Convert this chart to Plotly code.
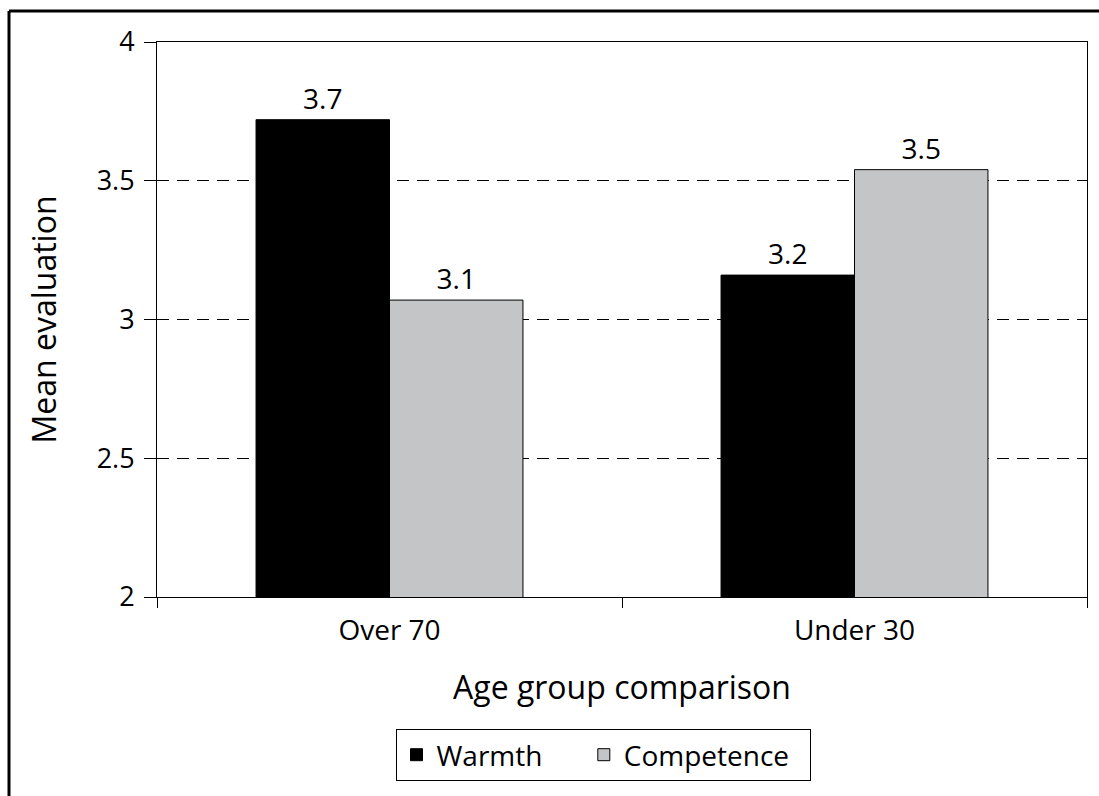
import plotly.graph_objects as go

# Mean evaluations by target age group
age_groups = ["Over 70", "Under 30"]
warmth = [3.72, 3.16]
competence = [3.07, 3.54]
y_ticks = [2, 2.5, 3, 3.5, 4]
y_tick_text = ["2", "2.5", "3", "3.5", "4"]

FONT = "Open Sans"
W, H = 1099, 796
L, R, T, B = 157, 12, 42, 199
pw, ph = W - L - R, H - T - B
NBSP = "&nbsp;"


def px_x(px):
    return (px - L) / pw


def px_y(py):
    return (H - B - py) / ph


fig = go.Figure()
fig.add_trace(go.Bar(
    name="Warmth" + NBSP * 5, x=age_groups, y=warmth,
    marker=dict(color="#000000", line=dict(color="#000000", width=1)),
    texttemplate="%{y:.1f}", textposition="outside",
    textfont=dict(family=FONT, size=28, color="#000000"),
    cliponaxis=False,
))
fig.add_trace(go.Bar(
    name="Competence" + NBSP * 2, x=age_groups, y=competence,
    marker=dict(color="#c4c5c7", line=dict(color="#000000", width=1)),
    texttemplate="%{y:.1f}", textposition="outside",
    textfont=dict(family=FONT, size=28, color="#000000"),
    cliponaxis=False,
))

fig.update_layout(
    width=W, height=H,
    margin=dict(l=L, r=R, t=T, b=B, pad=0),
    paper_bgcolor="white", plot_bgcolor="white",
    barmode="group", bargap=0.426, bargroupgap=0,
    font=dict(family=FONT, size=28, color="#000000"),
    showlegend=True,
    legend=dict(
        orientation="h", x=px_x(603), xanchor="center",
        y=px_y(729), yanchor="top",
        bordercolor="#000000", borderwidth=1,
        font=dict(family=FONT, size=28),
        itemwidth=30,
    ),
    xaxis=dict(
        showline=True, linecolor="#000000", linewidth=1, mirror=True,
        ticks="outside", tickson="boundaries", ticklen=10, tickcolor="#000000",
        tickfont=dict(family=FONT, size=28), ticklabelstandoff=8,
        title=dict(text="Age group comparison", font=dict(family=FONT, size=32), standoff=30),
        showgrid=False,
    ),
    yaxis=dict(
        range=[2, 4], tickvals=y_ticks, ticktext=y_tick_text,
        showline=True, linecolor="#000000", linewidth=1, mirror=True,
        ticks="outside", ticklen=12, tickcolor="#000000",
        tickfont=dict(family=FONT, size=27), ticklabelstandoff=4,
        title=dict(text="Mean evaluation", font=dict(family=FONT, size=32), standoff=30),
        showgrid=True, gridcolor="#000000", gridwidth=1, griddash="12px,8px",
        zeroline=False,
    ),
)

# Outer frame (top and left edges)
fig.add_shape(type="line", xref="paper", yref="paper",
              x0=px_x(9), x1=px_x(W + 5), y0=px_y(11), y1=px_y(11),
              line=dict(color="#000000", width=3))
fig.add_shape(type="line", xref="paper", yref="paper",
              x0=px_x(9), x1=px_x(9), y0=px_y(11), y1=px_y(H + 5),
              line=dict(color="#000000", width=3))

fig.write_html("out.html")
